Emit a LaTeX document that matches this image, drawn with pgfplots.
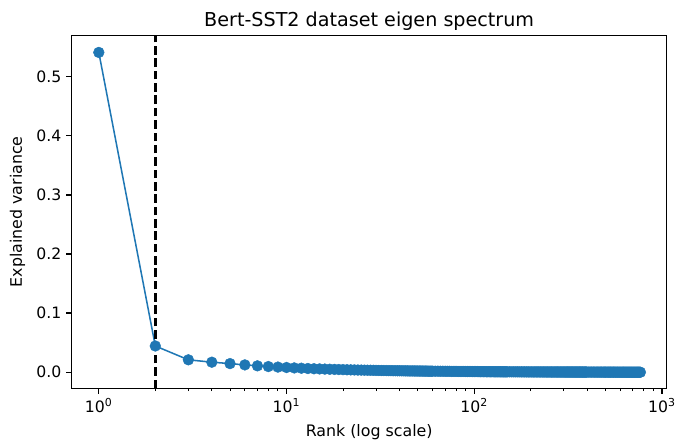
\documentclass[border=0pt]{standalone}
\usepackage{pgfplots}
\pgfplotsset{compat=1.18}
\usepackage{fontspec}
\setmainfont{DejaVu Sans}
\definecolor{tabblue}{HTML}{1F77B4}
\begin{document}
\begin{tikzpicture}
\begin{axis}[
  name=ax,
  scale only axis,
  width=428.7pt, height=254.15pt,
  xmode=log,
  xmin=0.717, xmax=1060,
  ymin=-0.027, ymax=0.5697,
  xtick={1,10,100,1000},
  xticklabels={10\textsuperscript{0},10\textsuperscript{1},10\textsuperscript{2},10\textsuperscript{3}},
  ytick={0,0.1,0.2,0.3,0.4,0.5},
  yticklabel style={/pgf/number format/fixed,/pgf/number format/fixed zerofill,/pgf/number format/precision=1},
  /pgf/number format/assume math mode=true,
  tick align=outside,
  xtick pos=bottom, ytick pos=left,
  major tick length=3.9pt, minor tick length=2.2pt,
  every tick/.style={black, line width=0.9pt},
  minor tick style={black, line width=0.65pt},
  axis line style={line width=0.9pt},
  tick label style={font=\fontsize{11.3}{13}\selectfont},
  label style={font=\fontsize{11.4}{13}\selectfont},
  title style={font=\fontsize{13.8}{16}\selectfont, at={(axis description cs:0.5,1)}, anchor=base, yshift=0.8pt},
  xlabel style={at={([yshift=-34.9pt]axis description cs:0.5,0)}, anchor=base},
  ylabel style={at={([xshift=-35.8pt]axis description cs:0,0.5)}, anchor=base},
  title={Bert-SST2 dataset eigen spectrum},
  xlabel={Rank (log scale)},
  ylabel={Explained variance},
  clip=true,
]
\addplot[tabblue, line width=1.1pt, mark=*, mark size=3.9pt, mark options={draw=tabblue, fill=tabblue, line width=0.3pt}] coordinates {
(1,0.541)(2,0.0444)(3,0.0210)(4,0.0170)(5,0.0146)(6,0.0124)(7,0.0108)(8,0.0096)(9,0.0087)(10,0.0080)
(11,0.0073)(12,0.0068)(13,0.0063)(14,0.0059)(15,0.0056)(16,0.0053)(17,0.0050)(18,0.0048)(19,0.0046)(20,0.0044)
(21,0.0042)(22,0.0040)(23,0.0039)(24,0.0037)(25,0.0036)(26,0.0035)(27,0.0034)(28,0.0033)(29,0.0032)(30,0.0031)
(31,0.0030)(32,0.0029)(33,0.0029)(34,0.0028)(35,0.0027)(36,0.0027)(37,0.0026)(38,0.0026)(39,0.0025)(40,0.0025)
(41,0.0024)(42,0.0024)(43,0.0023)(44,0.0023)(45,0.0022)(46,0.0022)(47,0.0022)(48,0.0021)(49,0.0021)(50,0.0021)
(51,0.0020)(52,0.0020)(53,0.0020)(54,0.0019)(55,0.0019)(56,0.0019)(57,0.0018)(58,0.0018)(59,0.0018)(60,0.0018)
(62,0.0017)(64,0.0017)(66,0.0016)(68,0.0016)(70,0.0015)(72,0.0015)(74,0.0015)(76,0.0014)(78,0.0014)(80,0.0014)
(82,0.0013)(84,0.0013)(86,0.0013)(88,0.0013)(90,0.0012)(92,0.0012)(94,0.0012)(96,0.0012)(98,0.0011)(100,0.0011)
(102,0.0011)(104,0.0011)(106,0.0010)(108,0.0010)(110,0.0010)(112,0.0010)(114,0.0010)(116,0.0009)(118,0.0009)(120,0.0009)
(122,0.0009)(124,0.0009)(126,0.0009)(128,0.0008)(130,0.0008)(132,0.0008)(134,0.0008)(136,0.0008)(138,0.0008)(140,0.0008)
(142,0.0007)(144,0.0007)(146,0.0007)(148,0.0007)(150,0.0007)
(154,0.00070)(158,0.00070)(162,0.00068)(166,0.00066)(170,0.00065)(174,0.00063)(178,0.00062)(182,0.00060)(186,0.00059)(190,0.00058)
(194,0.00057)(198,0.00056)(202,0.00055)(206,0.00054)(210,0.00053)(214,0.00052)(218,0.00051)(222,0.00050)(226,0.00049)(230,0.00048)
(234,0.00047)(238,0.00046)(242,0.00046)(246,0.00045)(250,0.00044)(254,0.00043)(258,0.00043)(262,0.00042)(266,0.00041)(270,0.00041)
(274,0.00040)(278,0.00040)(282,0.00039)(286,0.00038)(290,0.00038)(294,0.00037)(298,0.00037)(302,0.00036)(306,0.00036)(310,0.00035)
(314,0.00035)(318,0.00034)(322,0.00034)(326,0.00033)(330,0.00033)(334,0.00032)(338,0.00032)(342,0.00031)(346,0.00031)(350,0.00030)
(354,0.00030)(358,0.00030)(362,0.00029)(366,0.00029)(370,0.00028)(374,0.00028)(378,0.00028)(382,0.00027)(386,0.00027)(390,0.00027)
(394,0.00026)(398,0.00026)
(406,0.00025)(414,0.00025)(422,0.00024)(430,0.00024)(438,0.00023)(446,0.00023)(454,0.00022)(462,0.00022)(470,0.00021)(478,0.00021)
(486,0.00020)(494,0.00020)(502,0.00019)(510,0.00019)(518,0.00018)(526,0.00018)(534,0.00017)(542,0.00017)(550,0.00016)(558,0.00016)
(566,0.00015)(574,0.00015)(582,0.00014)(590,0.00014)(598,0.00013)(606,0.00013)(614,0.00012)(622,0.00012)(630,0.00011)(638,0.00011)
(646,0.00010)(654,0.00010)(662,0.00009)(670,0.00009)(678,0.00008)(686,0.00008)(694,0.00007)(702,0.00007)(710,0.00006)(718,0.00006)
(726,0.00005)(734,0.00005)(742,0.00004)(750,0.00004)(758,0.00003)(768,0.00002)
};
\addplot[black, line width=1.9pt, dash pattern=on 6.2pt off 2.7pt] coordinates {(2,-0.027)(2,0.5697)};
\end{axis}
\pgfresetboundingbox
\path[use as bounding box] ([xshift=-51.65pt,yshift=-37.95pt]ax.south west) rectangle ([xshift=6pt,yshift=25.55pt]ax.north east);
\end{tikzpicture}
\end{document}
